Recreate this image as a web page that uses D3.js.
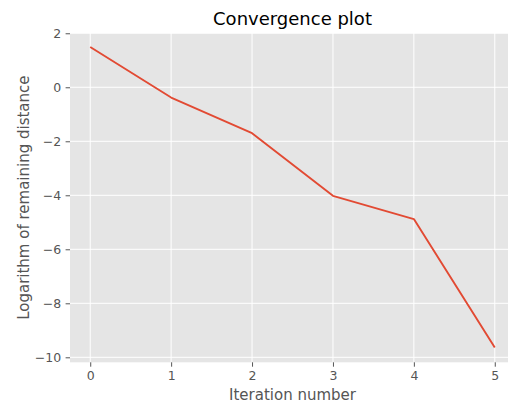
<!DOCTYPE html>
<html><head><meta charset="utf-8">
<script src="https://cdn.jsdelivr.net/npm/d3@7"></script>
<style>html,body{margin:0;padding:0;background:#fff;overflow:hidden}text{font-family:"DejaVu Sans",sans-serif}</style>
</head><body>
<script>
const iterations = [0, 1, 2, 3, 4, 5];
const logDistance = [1.49, -0.38, -1.70, -4.02, -4.88, -9.64];
const xTicks = [0, 1, 2, 3, 4, 5];
const yTicks = [2, 0, -2, -4, -6, -8, -10];
const title = "Convergence plot";
const xLabel = "Iteration number";
const yLabel = "Logarithm of remaining distance";

const W = 508, H = 405;
const m = {left: 70, right: 515, top: 33, bottom: 362.3};
const svg = d3.select("body").append("svg").attr("width", W).attr("height", H);
const x = d3.scaleLinear().domain([-0.25, 5.25]).range([m.left, m.right]);
const y = d3.scaleLinear().domain([-10.185, 2.01]).range([m.bottom, m.top]);

svg.append("rect").attr("x", m.left).attr("y", m.top)
  .attr("width", m.right - m.left).attr("height", m.bottom - m.top).attr("fill", "#E5E5E5");

const grid = svg.append("g");
grid.selectAll(".gx").data(xTicks).join("line")
  .attr("x1", d => x(d)).attr("x2", d => x(d)).attr("y1", m.top).attr("y2", m.bottom)
  .attr("stroke", "#fff").attr("stroke-width", 1);
grid.selectAll(".gy").data(yTicks).join("line")
  .attr("y1", d => y(d)).attr("y2", d => y(d)).attr("x1", m.left).attr("x2", m.right)
  .attr("stroke", "#fff").attr("stroke-width", 1);

const xAxis = d3.axisBottom(x).tickValues(xTicks).tickSizeInner(4.4).tickSizeOuter(0).tickPadding(4.4)
  .tickFormat(d => String(d).replace("-", "\u2212"));
const yAxis = d3.axisLeft(y).tickValues(yTicks).tickSizeInner(4.4).tickSizeOuter(0).tickPadding(4.4)
  .tickFormat(d => String(d).replace("-", "\u2212"));

const gx = svg.append("g").attr("transform", `translate(0,${m.bottom})`).call(xAxis);
const gy = svg.append("g").attr("transform", `translate(${m.left},0)`).call(yAxis);
[gx, gy].forEach(g => {
  g.select(".domain").remove();
  g.selectAll(".tick line").attr("stroke", "#555555").attr("stroke-width", 1);
  g.selectAll(".tick text").attr("fill", "#555555").style("font-size", "12.5px")
    .style("font-family", '"DejaVu Sans", sans-serif');
});

const line = d3.line().x((d, i) => x(iterations[i])).y(d => y(d));
svg.append("path").datum(logDistance).attr("d", line)
  .attr("fill", "none").attr("stroke", "#E24A33").attr("stroke-width", 1.9)
  .attr("stroke-linejoin", "round").attr("stroke-linecap", "butt");

svg.append("text").attr("x", (m.left + m.right) / 2).attr("y", 25)
  .attr("text-anchor", "middle").style("font-size", "18px").attr("fill", "#000").text(title);
svg.append("text").attr("x", (m.left + m.right) / 2).attr("y", 400)
  .attr("text-anchor", "middle").style("font-size", "15px").attr("fill", "#555555").text(xLabel);
svg.append("text").attr("transform", `translate(28.5,${(m.top + m.bottom) / 2}) rotate(-90)`)
  .attr("text-anchor", "middle").style("font-size", "15px").attr("fill", "#555555").text(yLabel);
</script>
</body></html>
